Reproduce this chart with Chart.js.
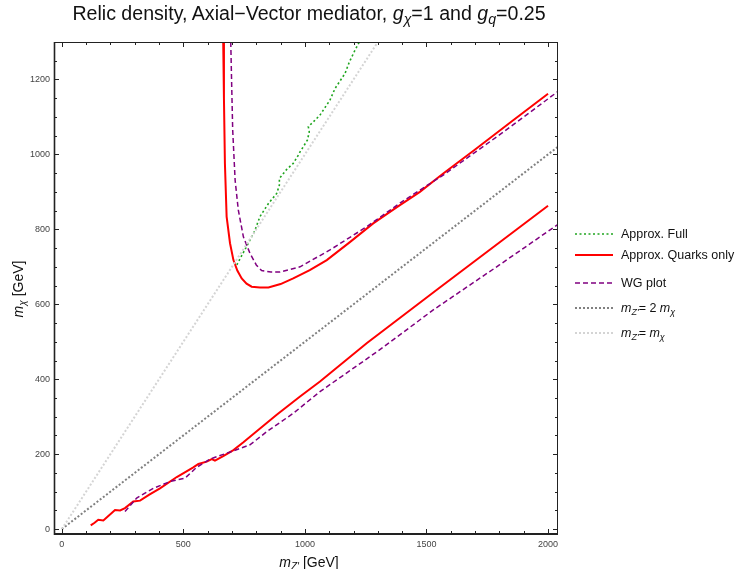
<!DOCTYPE html>
<html>
<head>
<meta charset="utf-8">
<script src="https://cdn.jsdelivr.net/npm/chart.js@4.4.1/dist/chart.umd.min.js"></script>
<style>
  html, body { margin: 0; padding: 0; background: #fff; }
  #wrap { position: relative; width: 738px; height: 569px; font-family: "Liberation Sans", Arial, sans-serif; color: #111; }
  #chart { position: absolute; left: 0; top: 0; }
  .sb { font-size: 72%; position: relative; top: 0.3em; }
  .title { position: absolute; left: 0; width: 618px; top: 2px; text-align: center; font-size: 19.6px; white-space: nowrap; }
  .xtitle { position: absolute; left: 0; width: 618px; top: 554px; text-align: center; font-size: 14px; white-space: nowrap; }
  .ytitle { position: absolute; left: 18px; top: 290px; width: 200px; margin-left: -100px; margin-top: -9px;
            text-align: center; font-size: 14px; transform: rotate(-90deg); white-space: nowrap; }
  .legend { position: absolute; left: 575px; top: 0; font-size: 12.5px; }
  .legend .item { position: absolute; left: 0; height: 16px; white-space: nowrap; }
  .legend svg { position: absolute; left: 0; top: 5px; }
  .legend span.txt { position: absolute; left: 46px; top: 0; line-height: 14px; }
</style>
</head>
<body>
<div id="wrap">
  <canvas id="chart" width="738" height="569"></canvas>
  <div class="title">Relic density, Axial&minus;Vector mediator, <i>g</i><span class="sb"><i>&chi;</i></span>=1 and <i>g</i><span class="sb"><i>q</i></span>=0.25</div>
  <div class="xtitle"><i>m</i><span class="sb"><i>Z'</i></span> [GeV]</div>
  <div class="ytitle"><i>m</i><span class="sb"><i>&chi;</i></span> [GeV]</div>
  <div class="legend" id="legend"></div>
</div>
<script>
const xTickLabels = [0, 500, 1000, 1500, 2000];
const yTickLabels = [0, 200, 400, 600, 800, 1000, 1200];

// Approx. Full (green dotted)
const fullX = [720, 767, 795, 815, 850, 884, 895, 895, 925, 952, 973, 980, 993, 1010, 1018, 1014, 1035, 1062, 1103, 1124, 1165, 1183, 1206, 1224];
const fullY = [705, 763, 798, 834, 869, 896, 918, 936, 960, 976, 998, 1007, 1020, 1038, 1060, 1074, 1087, 1105, 1145, 1176, 1216, 1247, 1278, 1300];

// Approx. Quarks only (red), upper and lower branch
const quarksUpX = [664, 667, 671, 678, 692, 706, 722, 740, 760, 781, 815, 850, 900, 952, 1020, 1090, 1185, 1281, 1380, 1473, 1569, 1700, 1850, 2000];
const quarksUpY = [1300, 1150, 976, 834, 763, 718, 690, 669, 655, 647, 645, 645, 654, 669, 691, 718, 766, 816, 860, 900, 949, 1013, 1088, 1162];
const quarksLoX = [119, 135, 150, 171, 195, 219, 240, 260, 294, 322, 360, 404, 473, 541, 562, 596, 617, 630, 664, 706, 747, 788, 884, 980, 1062, 1254, 1555, 2000];
const quarksLoY = [10, 17, 25, 23, 37, 51, 50, 56, 74, 76, 92, 109, 139, 165, 174, 180, 187, 183, 195, 211, 232, 254, 305, 354, 394, 496, 645, 863];

// WG plot (purple dashed), upper and lower branch
const wgUpX = [695, 699, 703, 713, 726, 747, 774, 800, 822, 860, 898, 980, 1103, 1254, 1400, 1569, 1800, 2045];
const wgUpY = [1300, 1180, 1065, 931, 852, 780, 736, 705, 690, 686, 686, 700, 745, 807, 874, 945, 1052, 1170];
const wgLoX = [260, 308, 377, 445, 507, 555, 610, 706, 774, 843, 952, 1062, 1300, 1528, 1800, 2045];
const wgLoY = [47, 83, 109, 127, 136, 165, 187, 209, 225, 260, 309, 367, 475, 585, 705, 815];

// reference lines mZ' = 2 mX and mZ' = mX
const halfX = [0, 2045];
const halfY = [0, 1022.5];
const diagX = [0, 1300];
const diagY = [0, 1300];

function pts(xs, ys) {
  return xs.map((x, i) => ({ x, y: ys[i] }));
}

const GREEN = "#1fa51f";
const RED = "#ff0000";
const PURPLE = "#800080";
const GRAY = "#808080";
const LIGHT = "#d4d4d4";

function series(label, xs, ys, color, width, dash) {
  return {
    label,
    data: pts(xs, ys),
    borderColor: color,
    borderWidth: width,
    borderDash: dash,
    showLine: true,
    pointRadius: 0,
    tension: 0,
  };
}

const datasets = [
  series("diag", diagX, diagY, LIGHT, 2, [2, 2]),
  series("half", halfX, halfY, GRAY, 2, [2, 2]),
  series("wgUp", wgUpX, wgUpY, PURPLE, 1.5, [5, 3]),
  series("wgLo", wgLoX, wgLoY, PURPLE, 1.5, [5, 3]),
  series("quarksUp", quarksUpX, quarksUpY, RED, 2, []),
  series("quarksLo", quarksLoX, quarksLoY, RED, 2, []),
  series("full", fullX, fullY, GREEN, 1.6, [2, 2.5]),
];

const framePlugin = {
  id: "frame",
  afterDatasetsDraw(chart) {
    const { ctx, chartArea: a, scales } = chart;
    const x = scales.x;
    const y = scales.y;
    ctx.save();
    ctx.strokeStyle = "#222";
    ctx.lineWidth = 1;
    const seg = (x1, y1, x2, y2) => {
      ctx.beginPath();
      ctx.moveTo(x1, y1);
      ctx.lineTo(x2, y2);
      ctx.stroke();
    };
    for (let v = 0; v <= 2000; v += 100) {
      const px = Math.round(x.getPixelForValue(v)) + 0.5;
      const len = xTickLabels.includes(v) ? 5 : 3;
      seg(px, a.bottom, px, a.bottom - len);
      seg(px, a.top, px, a.top + len);
    }
    for (let v = 0; v <= 1300; v += 50) {
      const py = Math.round(y.getPixelForValue(v)) + 0.5;
      const len = yTickLabels.includes(v) ? 5 : 3;
      seg(a.left, py, a.left + len, py);
      seg(a.right, py, a.right - len, py);
    }
    ctx.lineWidth = 1;
    seg(a.left, a.top + 0.5, a.right, a.top + 0.5);
    seg(a.right - 0.5, a.top, a.right - 0.5, a.bottom);
    ctx.lineWidth = 1.6;
    seg(a.left + 0.5, a.top, a.left + 0.5, a.bottom + 1);
    ctx.lineWidth = 2;
    seg(a.left, a.bottom, a.right, a.bottom);
    ctx.restore();
  },
};

const tickFont = { family: "Liberation Sans", size: 9 };

new Chart(document.getElementById("chart").getContext("2d"), {
  type: "scatter",
  data: { datasets },
  options: {
    responsive: false,
    animation: false,
    layout: { padding: { left: 0, top: 42, right: 180, bottom: 0 } },
    plugins: { legend: { display: false }, tooltip: { enabled: false } },
    scales: {
      x: {
        type: "linear",
        min: -32,
        max: 2041,
        afterBuildTicks: (s) => { s.ticks = xTickLabels.map((v) => ({ value: v })); },
        afterFit: (s) => { s.height = 35; },
        grid: { display: false, drawTicks: false },
        border: { display: false },
        ticks: { padding: 5, color: "#444", font: tickFont, callback: (v) => String(v) },
      },
      y: {
        type: "linear",
        min: -13,
        max: 1300,
        afterBuildTicks: (s) => { s.ticks = yTickLabels.map((v) => ({ value: v })); },
        afterFit: (s) => { s.width = 54; },
        grid: { display: false, drawTicks: false },
        border: { display: false },
        ticks: { padding: 4, color: "#444", font: tickFont, callback: (v) => String(v) },
      },
    },
  },
  plugins: [framePlugin],
});

// legend built from the same styles as the datasets
const legendItems = [
  { color: GREEN, width: 1.6, dash: "2 2.5", html: "Approx. Full", y: 227 },
  { color: RED, width: 2, dash: "", html: "Approx. Quarks only", y: 248 },
  { color: PURPLE, width: 1.5, dash: "5 3", html: "WG plot", y: 276 },
  { color: GRAY, width: 2, dash: "2 2", html: "<i>m</i><span class=\"sb\"><i>Z'</i></span>= 2 <i>m</i><span class=\"sb\"><i>&chi;</i></span>", y: 301 },
  { color: LIGHT, width: 2, dash: "2 2", html: "<i>m</i><span class=\"sb\"><i>Z'</i></span>= <i>m</i><span class=\"sb\"><i>&chi;</i></span>", y: 326 },
];
const legend = document.getElementById("legend");
legendItems.forEach((it) => {
  const div = document.createElement("div");
  div.className = "item";
  div.style.top = it.y + "px";
  div.innerHTML =
    `<svg width="40" height="4"><line x1="0" y1="2" x2="38" y2="2" stroke="${it.color}" stroke-width="${it.width}" stroke-dasharray="${it.dash}"/></svg>` +
    `<span class="txt">${it.html}</span>`;
  legend.appendChild(div);
});
</script>
</body>
</html>
